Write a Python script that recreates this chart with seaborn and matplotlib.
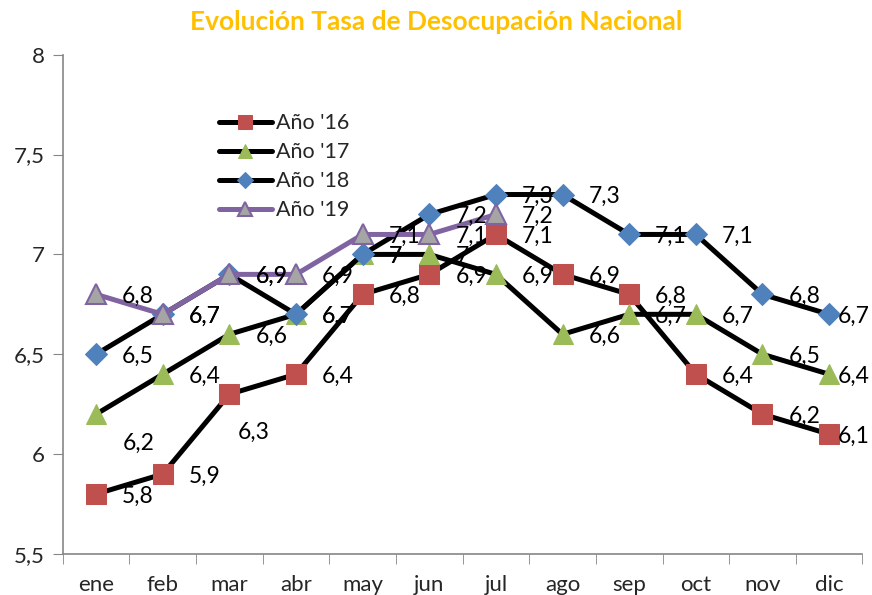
import pandas as pd
import numpy as np
import matplotlib.pyplot as plt
import seaborn as sns

months = ['ene', 'feb', 'mar', 'abr', 'may', 'jun', 'jul', 'ago', 'sep', 'oct', 'nov', 'dic']
y16 = [5.8, 5.9, 6.3, 6.4, 6.8, 6.9, 7.1, 6.9, 6.8, 6.4, 6.2, 6.1]
y17 = [6.2, 6.4, 6.6, 6.7, 7.0, 7.0, 6.9, 6.6, 6.7, 6.7, 6.5, 6.4]
y18 = [6.5, 6.7, 6.9, 6.7, 7.0, 7.2, 7.3, 7.3, 7.1, 7.1, 6.8, 6.7]
y19 = [6.8, 6.7, 6.9, 6.9, 7.1, 7.1, 7.2]
series_names = ["Año '16", "Año '17", "Año '18", "Año '19"]

sns.set_style("white")
plt.rcParams['font.family'] = ['Lato', 'DejaVu Sans']

fig = plt.figure(figsize=(8.72, 5.95), dpi=100)
ax = fig.add_axes([0.072, 0.069, 0.917, 0.839])

styles = {
    "Año '16": dict(color='black', marker='s', markersize=14, markerfacecolor='#C0504D',
                    markeredgecolor='#C0504D'),
    "Año '17": dict(color='black', marker='^', markersize=15, markerfacecolor='#9BBB59',
                    markeredgecolor='#9BBB59'),
    "Año '18": dict(color='black', marker='D', markersize=11, markerfacecolor='#4F81BD',
                    markeredgecolor='#4F81BD'),
    "Año '19": dict(color='#8064A2', marker='^', markersize=15, markerfacecolor='#A5A5A5',
                    markeredgecolor='#8064A2', markeredgewidth=1.5),
}

all_vals = [y16, y17, y18, y19]
for name, vals in zip(series_names, all_vals):
    df = pd.DataFrame({'x': np.arange(len(vals)), 'y': vals})
    sns.lineplot(data=df, x='x', y='y', ax=ax, label=name, linewidth=3.6,
                 sort=False, **styles[name])

# data labels (Excel style: to the right of each point)
special = {(0, 2): (8, -38), (1, 0): (27, -29)}
for si, vals in enumerate(all_vals):
    for i, v in enumerate(vals):
        dx, dy = special.get((si, i), (26, -2))
        if i == 11:
            dx = 9
        txt = f"{v:g}".replace('.', ',')
        ax.annotate(txt, (i, v), xytext=(dx, dy), textcoords='offset pixels',
                    ha='left', va='center', fontsize=16.5, color='black', zorder=5)

ax.set_xlim(-0.5, 11.5)
ax.set_ylim(5.5, 8)
ax.set_yticks([5.5, 6, 6.5, 7, 7.5, 8])
ax.set_yticklabels(['5,5', '6', '6,5', '7', '7,5', '8'], fontsize=16)
ax.set_xticks(range(12))
ax.set_xticklabels(months, fontsize=16)
ax.set_xticks(np.arange(-0.5, 12, 1), minor=True)
ax.tick_params(axis='x', which='major', length=0, pad=15)
ax.tick_params(axis='x', which='minor', length=7, color='#868686', direction='out', bottom=True)
ax.tick_params(axis='y', length=7, color='#868686', direction='out', left=True, pad=6)
ax.set_xlabel('')
ax.set_ylabel('')
for s in ['top', 'right']:
    ax.spines[s].set_visible(False)
for s in ['left', 'bottom']:
    ax.spines[s].set_color('#868686')
    ax.spines[s].set_linewidth(1.2)

ax.legend(loc='upper left', bbox_to_anchor=(0.184, 0.9), frameon=False, fontsize=15.5,
          handlelength=2.5, handletextpad=0.15, labelspacing=0.42, borderaxespad=0,
          numpoints=1, markerscale=0.7)

fig.text(0.5, 0.963, 'Evolución Tasa de Desocupación Nacional', ha='center', va='center',
         fontsize=19, fontweight='bold', color='#FFC000')

fig.savefig('out.png', dpi=100)
